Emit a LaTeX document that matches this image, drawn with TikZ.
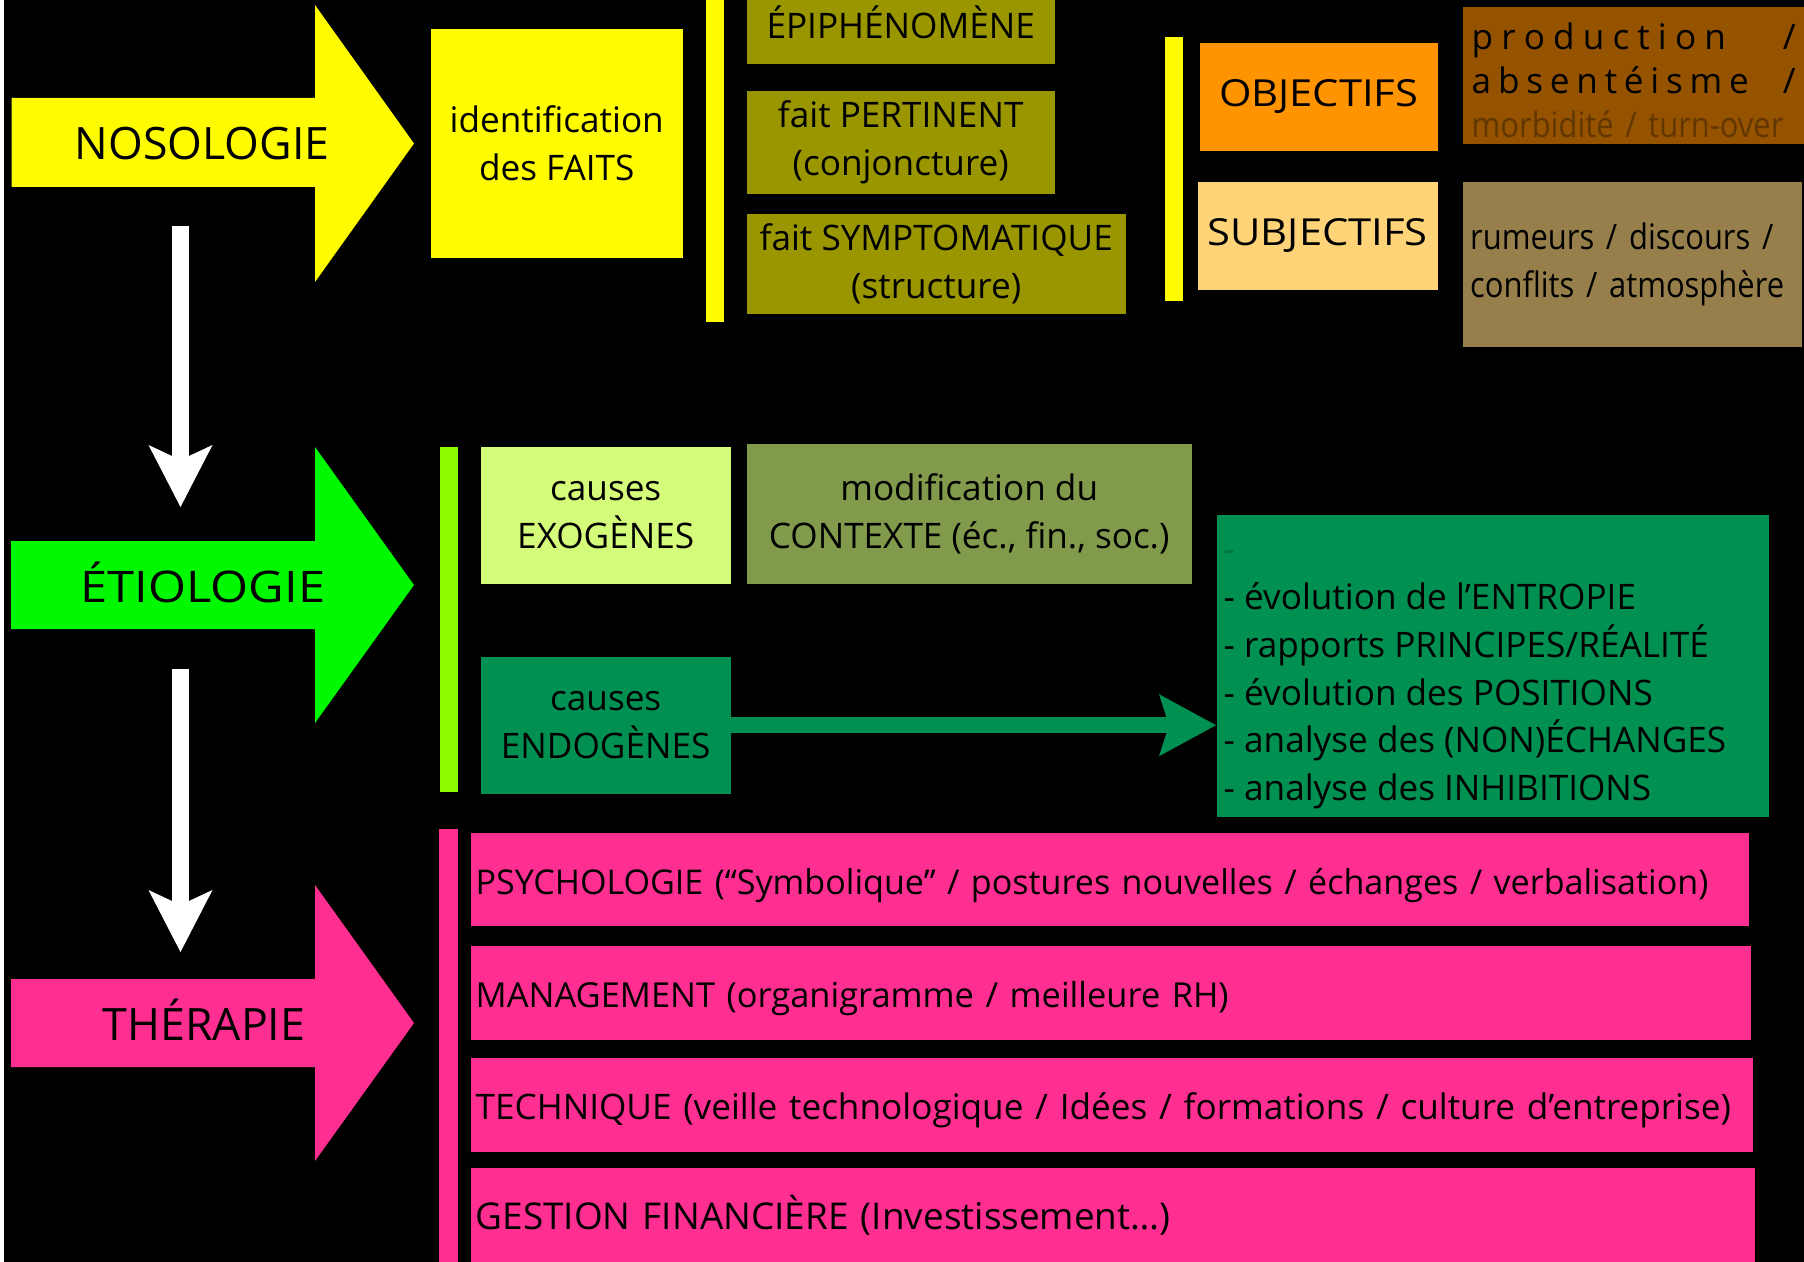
\documentclass[tikz,border=0pt]{standalone}
\usepackage{fontspec}
\setmainfont{Open Sans}
\newfontfamily\narrowfont{Open Sans}[FakeStretch=0.88]
\newfontfamily\widefont{Open Sans}[FakeStretch=1.12]
\usetikzlibrary{arrows.meta}

\definecolor{yellowA}{HTML}{FFFB00}
\definecolor{oliveA}{HTML}{999600}
\definecolor{orangeA}{HTML}{FF9300}
\definecolor{orangeB}{HTML}{FFD479}
\definecolor{brownA}{HTML}{955300}
\definecolor{brownB}{HTML}{977F4B}
\definecolor{greenA}{HTML}{00F900}
\definecolor{limeA}{HTML}{8EFA00}
\definecolor{limeB}{HTML}{D4FB79}
\definecolor{oliveB}{HTML}{819A4B}
\definecolor{greenB}{HTML}{009051}
\definecolor{pinkA}{HTML}{FF2F92}

\newcommand\boxfont{\fontsize{10}{13.6}\selectfont}
\newcommand\bigfont{\fontsize{12.7}{15}\selectfont}

\tikzset{
  box/.style={anchor=north west, inner sep=0pt, align=center, font=\boxfont},
  pinkbox/.style={box, fill=pinkA, align=left, text height=0.39cm, text depth=0.085cm},
  biglabel/.style={anchor=base, font=\bigfont},
  downarrow/.style={draw=white, line width=0.17cm, -{Stealth[length=0.62cm, width=0.64cm, inset=0.15cm, line width=0pt]}},
  endoarrow/.style={draw=greenB, line width=0.16cm, -{Stealth[length=0.57cm, width=0.62cm, inset=0.1cm, line width=0pt]}},
}

\begin{document}
\begin{tikzpicture}[x=1cm, y=-1cm]
\useasboundingbox (0,0) rectangle (18.04,12.62);
\fill[white] (0,0) rectangle (18.04,12.62);
\fill[black] (0.04,0) rectangle (18.04,12.62);
\begin{scope}
\clip (0.04,0) rectangle (18.04,12.62);

% big arrows on the left
\fill[yellowA] (0.115,0.98) -- (3.15,0.98) -- (3.15,0.05) -- (4.14,1.435) -- (3.15,2.82) -- (3.15,1.87) -- (0.115,1.87) -- cycle;
\fill[greenA] (0.11,5.41) -- (3.15,5.41) -- (3.15,4.47) -- (4.14,5.85) -- (3.15,7.23) -- (3.15,6.29) -- (0.11,6.29) -- cycle;
\fill[pinkA] (0.11,9.79) -- (3.15,9.79) -- (3.15,8.85) -- (4.14,10.23) -- (3.15,11.61) -- (3.15,10.67) -- (0.11,10.67) -- cycle;
\node[biglabel] (noso) at (2.02,1.60) {NOSOLOGIE};
\node[biglabel, font=\widefont\fontsize{12.4}{15}\selectfont] (etio) at (2.03,6.03) {ÉTIOLOGIE};
\node[biglabel] (thera) at (2.04,10.40) {THÉRAPIE};

\coordinate (n1) at (1.805,2.26);
\coordinate (e1) at (1.805,5.07);
\coordinate (e2) at (1.805,6.69);
\coordinate (t1) at (1.805,9.52);
\draw[downarrow] (n1) -- (e1);
\draw[downarrow] (e2) -- (t1);

% bars
\fill[yellowA] (7.06,-0.1) rectangle (7.24,3.22);
\fill[yellowA] (11.65,0.37) rectangle (11.83,3.01);
\fill[limeA] (4.40,4.47) rectangle (4.58,7.92);
\fill[pinkA] (4.39,8.29) rectangle (4.58,12.7);

% nosologie
\node[box, fill=yellowA, minimum width=2.52cm, minimum height=2.29cm] (faits) at (4.30,0.28) {identification\\des FAITS};
\node[box, fill=oliveA, minimum width=3.08cm, minimum height=0.83cm] (epi) at (7.46,-0.20) {ÉPIPHÉNOMÈNE};
\node[box, fill=oliveA, minimum width=3.08cm, minimum height=1.03cm] (pert) at (7.46,0.90) {fait PERTINENT\\(conjoncture)};
\node[box, fill=oliveA, minimum width=3.79cm, minimum height=1.00cm] (symp) at (7.46,2.13) {fait SYMPTOMATIQUE\\(structure)};
\node[box, fill=orangeA, minimum width=2.38cm, minimum height=1.08cm, font=\widefont\fontsize{10.6}{13.6}\selectfont] (obj) at (11.99,0.42) {OBJECTIFS};
\node[box, fill=orangeB, minimum width=2.40cm, minimum height=1.08cm, font=\widefont\fontsize{10.6}{13.6}\selectfont] (subj) at (11.97,1.81) {SUBJECTIFS};
\node[box, fill=brownA, minimum width=3.42cm, minimum height=1.37cm, text width=3.24cm, align=left, text height=0.37cm, font=\fontsize{10}{12.6}\selectfont] (prod) at (14.62,0.06)
  {\makebox[3.24cm][s]{p\hfill r\hfill o\hfill d\hfill u\hfill c\hfill t\hfill i\hfill o\hfill n\hspace{0pt plus 7fill}/}\\
   \makebox[3.24cm][s]{a\hfill b\hfill s\hfill e\hfill n\hfill t\hfill é\hfill i\hfill s\hfill m\hfill e\hspace{0pt plus 5fill}/}\\
   {\narrowfont\color{brownA!65!black}morbidité / turn-over}};
\node[box, fill=brownB, minimum width=3.39cm, minimum height=1.65cm, text width=3.24cm, align=left, font=\narrowfont\fontsize{10}{13.6}\selectfont] (rum) at (14.62,1.81)
  {\makebox[3.24cm][s]{rumeurs / discours /}\\
   \makebox[3.24cm][s]{conflits / atmosphère}};

% etiologie
\node[box, fill=limeB, minimum width=2.50cm, minimum height=1.37cm] (exo) at (4.80,4.46) {causes\\EXOGÈNES};
\node[box, fill=oliveB, minimum width=4.45cm, minimum height=1.40cm] (ctx) at (7.46,4.43) {modification du\\CONTEXTE (éc., fin., soc.)};
\node[box, fill=greenB, minimum width=2.50cm, minimum height=1.37cm] (endo) at (4.80,6.56) {causes\\ENDOGÈNES};
\node[box, fill=greenB, minimum width=5.52cm, minimum height=3.02cm] (anal) at (12.16,5.14) {};
\node[anchor=west, inner sep=0pt, align=left, font=\boxfont] (analtxt) at (12.23,6.80)
  {{\color{greenB!80!black}-}\\
   - évolution de l’ENTROPIE\\
   - rapports PRINCIPES/RÉALITÉ\\
   - évolution des POSITIONS\\
   - analyse des (NON)ÉCHANGES\\
   - analyse des INHIBITIONS};
\draw[endoarrow] (endo.east) -- (endo.east -| anal.west);

% therapie
\node[pinkbox, minimum width=12.78cm, minimum height=0.93cm, text width=12.68cm, font=\fontsize{9.7}{13.6}\selectfont] (psy) at (4.70,8.32)
  {PSYCHOLOGIE (“Symbolique” / postures nouvelles / échanges / verbalisation)};
\node[pinkbox, minimum width=12.80cm, minimum height=0.94cm, text width=12.70cm, font=\fontsize{9.8}{13.6}\selectfont] (mgmt) at (4.70,9.45)
  {MANAGEMENT (organigramme / meilleure RH)};
\node[pinkbox, minimum width=12.82cm, minimum height=0.94cm, text width=12.72cm] (tech) at (4.70,10.57)
  {TECHNIQUE (veille technologique / Idées / formations / culture d’entreprise)};
\node[box, fill=pinkA, align=left, minimum width=12.84cm, minimum height=0.96cm, text width=12.74cm, font=\fontsize{10.5}{13.6}\selectfont] (gest) at (4.70,11.67)
  {GESTION FINANCIÈRE (Investissement…)};
\end{scope}
\end{tikzpicture}
\end{document}
